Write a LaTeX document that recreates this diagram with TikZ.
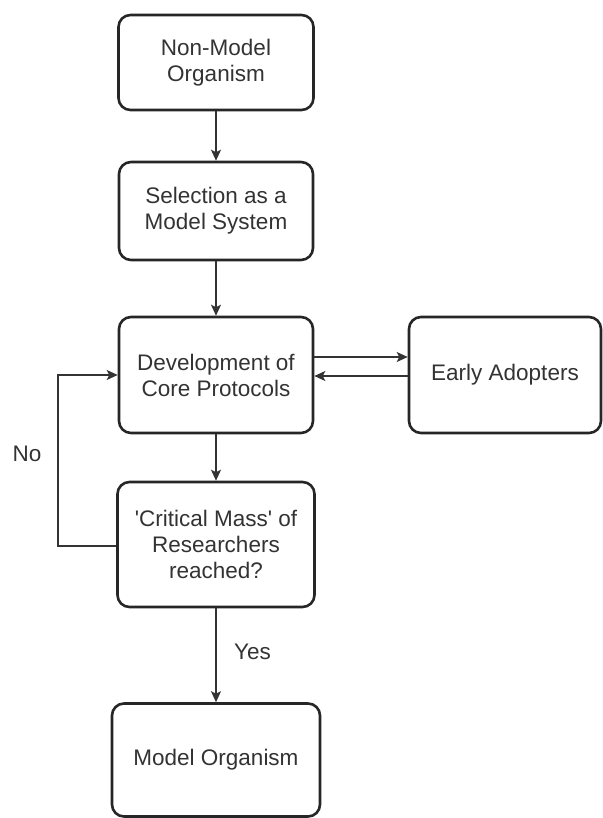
\documentclass[tikz,border=0pt]{standalone}
\usepackage{fontspec}
\setmainfont{Liberation Sans}
\usetikzlibrary{arrows.meta}
\begin{document}
\begin{tikzpicture}[x=1pt,y=-1pt,
  box/.style={draw=black!85, line width=2.6pt, rounded corners=12pt, fill=white,
    align=center, inner sep=0pt, font=\fontsize{22.5}{26}\selectfont, text=black!80},
  conn/.style={draw=black!80, line width=1.7pt, -{Stealth[length=11pt,width=10pt,inset=2.5pt]}},
  lbl/.style={font=\fontsize{22.5}{26}\selectfont, text=black!80}]
\useasboundingbox (0,0) rectangle (602,818);
\node[box, minimum width=195pt, minimum height=95pt] (b1) at (216,62.5) {Non-Model\\Organism};
\node[box, minimum width=194pt, minimum height=98pt] (b2) at (216,211) {Selection as a\\Model System};
\node[box, minimum width=194pt, minimum height=116pt] (b3) at (216,375) {Development of\\Core Protocols};
\node[box, minimum width=192pt, minimum height=116pt] (ea) at (505,375) {Early Adopters};
\node[box, minimum width=197pt, minimum height=125pt] (b5) at (216,544.5) {\textquotesingle Critical Mass\textquotesingle{} of\\Researchers\\reached?};
\node[box, minimum width=208pt, minimum height=113pt] (b6) at (216,760) {Model Organism};
\coordinate (lp) at (58,546);
\draw[conn] (b1.south) -- (b2.north);
\draw[conn] (b2.south) -- (b3.north);
\draw[conn] (b3.south) -- (b5.north);
\draw[conn] ([yshift=18pt]b3.east) -- ([yshift=18pt]ea.west);
\draw[conn] ([yshift=-1pt]ea.west) -- ([yshift=-1pt]b3.west -| b3.east);
\draw[conn] ([yshift=-1.5pt]b5.west) -- (lp) |- (b3.west);
\draw[conn] (b5.south) -- node[lbl, right=14pt, pos=0.46] (yes) {Yes} (b6.north);
\node[lbl] (no) at (27,454) {No};
\end{tikzpicture}
\end{document}
